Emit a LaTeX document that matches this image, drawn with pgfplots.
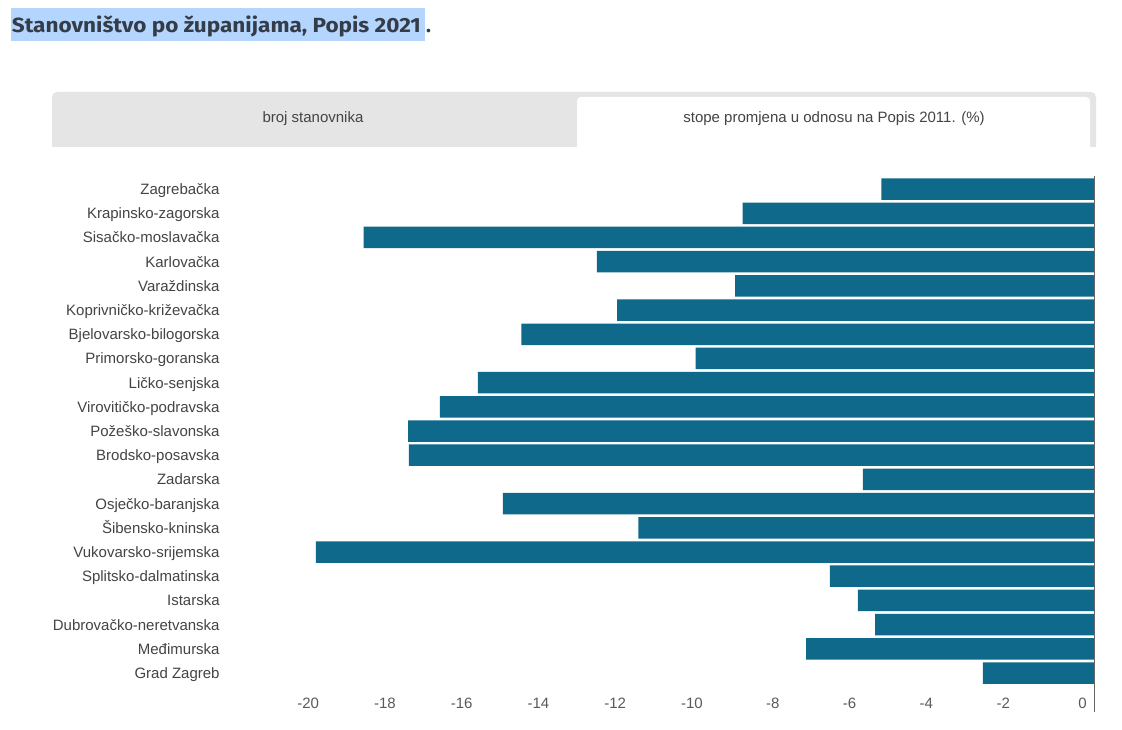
\documentclass[border=0pt]{standalone}
\usepackage{pgfplots}
\pgfplotsset{compat=1.18}
\usepackage{fontspec}
\setmainfont{Liberation Sans}
\newfontfamily\titlefont{Fira Sans}

\definecolor{barblue}{RGB}{14,105,138}
\definecolor{hilite}{RGB}{180,213,254}
\definecolor{titletext}{RGB}{52,60,72}
\definecolor{tabgray}{RGB}{229,229,229}
\definecolor{labeltext}{RGB}{68,68,68}
\definecolor{ticktext}{RGB}{90,90,90}

\begin{document}
\begin{tikzpicture}[x=1pt,y=1pt]
\useasboundingbox (0,0) rectangle (1122,730);
\fill[white] (0,0) rectangle (1122,730);

% naslov s oznakom
\fill[hilite] (10.5,689) rectangle (425,722);
\node[anchor=base west, inner sep=0pt, text=titletext] at (11.7,697.3)
  {\resizebox{409pt}{\height}{\titlefont\bfseries\fontsize{20.5}{24}\selectfont Stanovništvo po županijama, Popis 2021}};
\node[anchor=base west, inner sep=0pt, text=titletext] at (426,697.3)
  {\titlefont\bfseries\fontsize{20.5}{24}\selectfont .};

% kartice
\fill[tabgray, rounded corners=5pt] (52,574) rectangle (1096,638);
\fill[white] (40,560) rectangle (1110,583);
\fill[white, rounded corners=4pt] (577,570) rectangle (1090,633);
\fill[white] (577,570) rectangle (1090,590);
\node[text=labeltext, font=\fontsize{15}{18}\selectfont] at (313,611) {broj stanovnika};
\node[text=labeltext, font=\fontsize{15}{18}\selectfont] at (834,611) {stope promjena u odnosu na Popis 2011. (\%)};

\begin{axis}[
  at={(299.8pt,18pt)}, anchor=south west,
  scale only axis,
  width=794.5pt, height=536pt,
  xmin=-20.7, xmax=0,
  ymin=-1.61, ymax=20.54,
  xbar, bar width=21.5pt,
  axis line style={draw=none},
  major tick length=0pt,
  xtick={-20,-18,-16,-14,-12,-10,-8,-6,-4,-2,0},
  xticklabels={-20,-18,-16,-14,-12,-10,-8,-6,-4,-2,0},
  ytick={0,1,...,20},
  yticklabels={Grad Zagreb, Međimurska, Dubrovačko-neretvanska, Istarska,
    Splitsko-dalmatinska, Vukovarsko-srijemska, Šibensko-kninska,
    Osječko-baranjska, Zadarska, Brodsko-posavska, Požeško-slavonska,
    Virovitičko-podravska, Ličko-senjska, Primorsko-goranska,
    Bjelovarsko-bilogorska, Koprivničko-križevačka, Varaždinska,
    Karlovačka, Sisačko-moslavačka, Krapinsko-zagorska, Zagrebačka},
  xticklabel style={anchor=east, inner sep=0pt, xshift=-7.5pt, yshift=9pt,
    text=ticktext, font=\fontsize{15}{18}\selectfont},
  yticklabel style={anchor=base east, inner sep=0pt, xshift=-80pt, yshift=-5.4pt,
    text=labeltext, font=\fontsize{15}{18}\selectfont},
  clip=false,
]
\addplot[fill=barblue, draw=none] coordinates {
  (-2.90,0) (-7.51,1) (-5.71,2) (-6.16,3) (-6.89,4) (-20.28,5)
  (-11.88,6) (-15.41,7) (-6.03,8) (-17.86,9) (-17.88,10) (-17.05,11)
  (-16.06,12) (-10.39,13) (-14.93,14) (-12.43,15) (-9.36,16)
  (-12.96,17) (-19.04,18) (-9.16,19) (-5.55,20)
};
\draw[gray!80!black, line width=0.9pt] (axis cs:0,-1.61) -- (axis cs:0,20.54);
\end{axis}
\end{tikzpicture}
\end{document}
